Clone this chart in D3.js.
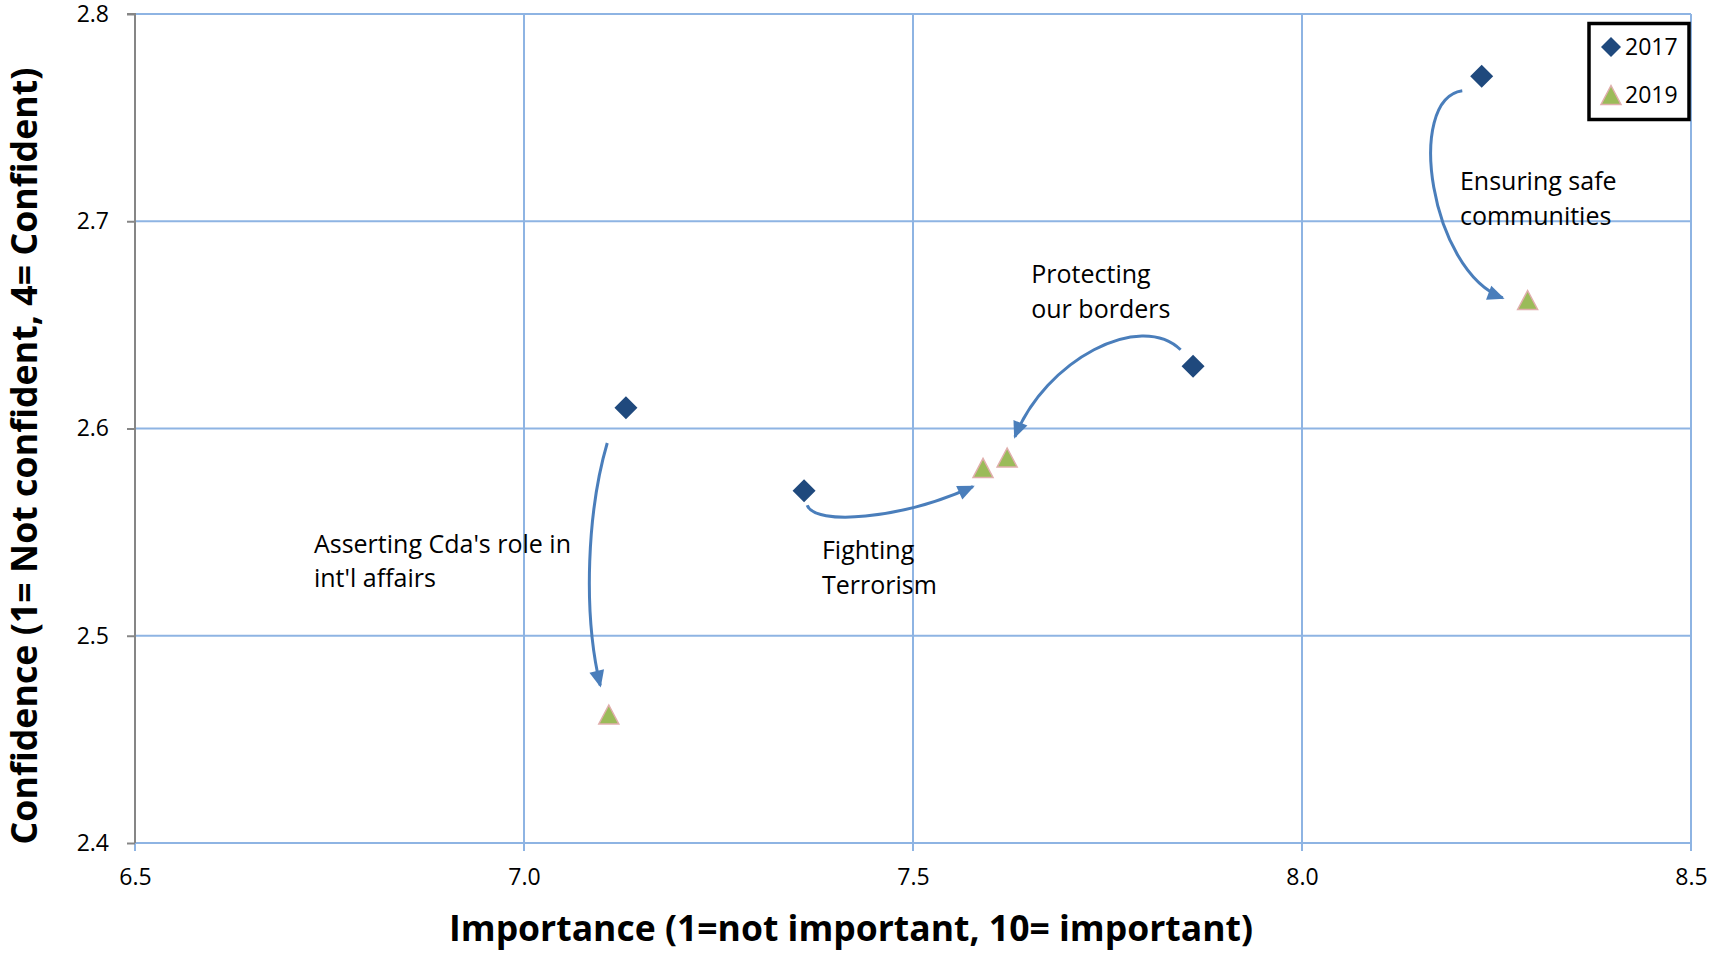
<!DOCTYPE html>
<html lang="en">
<head>
<meta charset="utf-8">
<title>Importance vs Confidence</title>
<style>
  body { margin: 0; background: #fff; }
  svg { display: block; font-family: "Open Sans", sans-serif; }
  .grid line { stroke: #8eb4e3; stroke-width: 2; }
  .axis-title { font-size: 36px; font-weight: bold; fill: #000; }
  .note { font-size: 25px; fill: #000; }
  .arrow { fill: none; stroke: #4a7ebb; stroke-width: 3; }
</style>
</head>
<body>
<script src="https://d3js.org/d3.v7.min.js"></script>
<script>
// ---- data ----
var categories = ["Asserting Cda's role in int'l affairs", "Fighting Terrorism",
                  "Protecting our borders", "Ensuring safe communities"];
var importance2017 = [7.131, 7.360, 7.860, 8.231];
var confidence2017 = [2.610, 2.570, 2.630, 2.770];
var importance2019 = [7.109, 7.590, 7.621, 8.290];
var confidence2019 = [2.462, 2.581, 2.586, 2.662];

var xTicks = [6.5, 7.0, 7.5, 8.0, 8.5];
var yTicks = [2.4, 2.5, 2.6, 2.7, 2.8];

// annotation text (two lines each) and where it sits, in data units (left, baseline)
var noteLines = [["Asserting Cda's role in", "int'l affairs"], ["Fighting", "Terrorism"],
                 ["Protecting", "our borders"], ["Ensuring safe", "communities"]];
var noteX = [6.730, 7.383, 7.652, 8.203];
var noteY = [2.540, 2.537, 2.670, 2.715];

// curved arrows 2017 -> 2019, cubic bezier points in data units [x, y]
var arrowPoints = [
  [[7.107, 2.593], [7.082, 2.561], [7.075, 2.512], [7.098, 2.476]],
  [[7.364, 2.563], [7.374, 2.553], [7.483, 2.556], [7.577, 2.572]],
  [[7.844, 2.638], [7.792, 2.657], [7.670, 2.633], [7.631, 2.596]],
  [[8.206, 2.763], [8.132, 2.759], [8.165, 2.676], [8.258, 2.663]]
];

var seriesNames = ["2017", "2019"];

// ---- layout ----
var width = 1709, height = 953;
var plotLeft = 135, plotRight = 1691, plotTop = 14, plotBottom = 843;
var font = "'Open Sans', sans-serif";

var svg = d3.select("body").append("svg")
    .attr("width", width)
    .attr("height", height);

var x = d3.scaleLinear().domain([6.5, 8.5]).range([plotLeft, plotRight]);
var y = d3.scaleLinear().domain([2.4, 2.8]).range([plotBottom, plotTop]);

// gridlines (vertical ones poke 8px below the plot like tick marks)
var grid = svg.append("g").attr("class", "grid");
grid.selectAll(".gy").data(yTicks).enter().append("line")
    .attr("x1", plotLeft).attr("x2", plotRight)
    .attr("y1", function(d) { return y(d); })
    .attr("y2", function(d) { return y(d); });
grid.selectAll(".gx").data(xTicks).enter().append("line")
    .attr("y1", plotTop).attr("y2", plotBottom + 8)
    .attr("x1", function(d) { return x(d); })
    .attr("x2", function(d) { return x(d); });

// left axis: grey line with outward ticks
var yAxis = d3.axisLeft(y).tickValues(yTicks).tickSize(8).tickPadding(18)
    .tickFormat(d3.format(".1f"));
var gy = svg.append("g").attr("transform", "translate(" + plotLeft + ",0)").call(yAxis);
gy.select(".domain").attr("stroke", "#868686").attr("stroke-width", 2)
    .attr("d", "M-8," + plotTop + "H0V" + plotBottom);
gy.selectAll(".tick line").attr("stroke", "#868686").attr("stroke-width", 2);

// bottom tick labels
var xAxis = d3.axisBottom(x).tickValues(xTicks).tickSize(0).tickPadding(26)
    .tickFormat(d3.format(".1f"));
var gx = svg.append("g").attr("transform", "translate(0," + plotBottom + ")").call(xAxis);
gx.select(".domain").remove();

svg.selectAll(".tick text")
    .style("font-family", font)
    .style("font-size", "23px")
    .attr("fill", "#000");

// axis titles
svg.append("text").attr("class", "axis-title")
    .attr("x", 851).attr("y", 941)
    .attr("text-anchor", "middle")
    .attr("textLength", 804).attr("lengthAdjust", "spacingAndGlyphs")
    .text("Importance (1=not important, 10= important)");
svg.append("text").attr("class", "axis-title")
    .attr("transform", "translate(37,456) rotate(-90)")
    .attr("text-anchor", "middle")
    .attr("textLength", 777).attr("lengthAdjust", "spacingAndGlyphs")
    .text("Confidence (1= Not confident, 4= Confident)");

// arrow heads
svg.append("defs").append("marker")
    .attr("id", "head")
    .attr("markerUnits", "userSpaceOnUse")
    .attr("viewBox", "-20 -10 24 20")
    .attr("refX", -2).attr("refY", 0)
    .attr("markerWidth", 24).attr("markerHeight", 20)
    .attr("orient", "auto")
  .append("path")
    .attr("d", "M0,0L-17,-7.5L-17,7.5Z")
    .attr("fill", "#4a7ebb");

svg.selectAll(".arrow").data(arrowPoints).enter().append("path")
    .attr("class", "arrow")
    .attr("marker-end", "url(#head)")
    .attr("d", function(p) {
      var path = d3.path();
      path.moveTo(x(p[0][0]), y(p[0][1]));
      path.bezierCurveTo(x(p[1][0]), y(p[1][1]), x(p[2][0]), y(p[2][1]), x(p[3][0]), y(p[3][1]));
      return path.toString();
    });

// annotation labels
var notes = svg.selectAll(".note").data(noteLines).enter().append("text")
    .attr("class", "note")
    .attr("x", function(d, i) { return x(noteX[i]); })
    .attr("y", function(d, i) { return y(noteY[i]); });
notes.selectAll("tspan").data(function(d, i) { return d.map(function(s) { return { s: s, i: i }; }); })
    .enter().append("tspan")
    .attr("x", function(d) { return x(noteX[d.i]); })
    .attr("dy", function(d, j) { return j === 0 ? 0 : 34.5; })
    .text(function(d) { return d.s; });

// markers
var diamond = "M0,-11.5L11.5,0L0,11.5L-11.5,0Z";
var triangle = "M0,-9.5L10,9.5L-10,9.5Z";

svg.selectAll(".m2017").data(categories).enter().append("path")
    .attr("d", diamond)
    .attr("fill", "#1f497d")
    .attr("transform", function(d, i) {
      return "translate(" + x(importance2017[i]) + "," + y(confidence2017[i]) + ")";
    });
svg.selectAll(".m2019").data(categories).enter().append("path")
    .attr("d", triangle)
    .attr("fill", "#9bbb59").attr("stroke", "#e0aeac").attr("stroke-width", 1.5)
    .attr("transform", function(d, i) {
      return "translate(" + x(importance2019[i]) + "," + y(confidence2019[i]) + ")";
    });

// legend
var legend = svg.append("g");
legend.append("rect")
    .attr("x", plotRight - 102).attr("y", plotTop + 9.5)
    .attr("width", 100).attr("height", 96)
    .attr("fill", "#fff").attr("stroke", "#000").attr("stroke-width", 3.5);
var entries = legend.selectAll(".entry").data(seriesNames).enter().append("g")
    .attr("transform", function(d, i) { return "translate(" + (plotRight - 80) + "," + (plotTop + 33 + i * 48) + ")"; });
entries.append("path")
    .attr("d", function(d, i) { return i === 0 ? "M0,-10L10,0L0,10L-10,0Z" : triangle; })
    .attr("fill", function(d, i) { return i === 0 ? "#1f497d" : "#9bbb59"; })
    .attr("stroke", function(d, i) { return i === 0 ? "none" : "#e0aeac"; })
    .attr("stroke-width", 1.5);
entries.append("text")
    .attr("x", 14).attr("y", 8)
    .attr("font-size", 23)
    .text(function(d) { return d; });
</script>
</body>
</html>
